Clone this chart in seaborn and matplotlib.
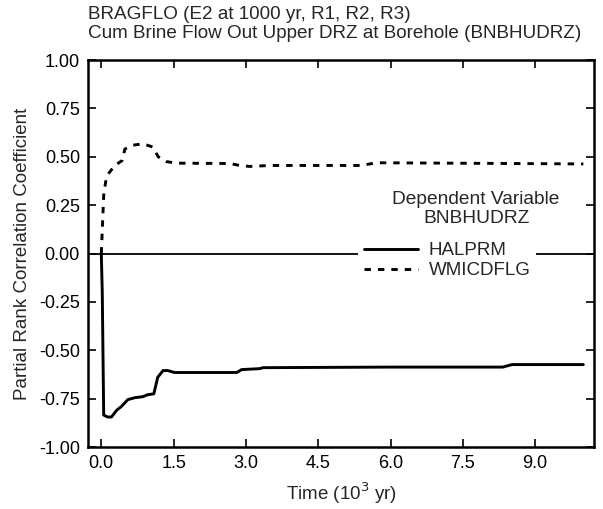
"""
PRCC plot: BRAGFLO cumulative brine flow out of upper DRZ at borehole.
"""
import numpy as np
import pandas as pd
import matplotlib
matplotlib.use("Agg")
import matplotlib.pyplot as plt
from matplotlib.lines import Line2D
import seaborn as sns

# ─────────────────────────────────────────────
# Data
# ─────────────────────────────────────────────
halprm_time = [0.0, 0.02, 0.05, 0.13, 0.21, 0.32, 0.42, 0.55, 0.70, 0.86, 0.96,
               1.09, 1.17, 1.28, 1.38, 1.52, 2.81, 2.91, 3.29, 3.35, 5.98,
               8.33, 8.52, 10.0]
halprm_pcc = [0.0, -0.20, -0.835, -0.845, -0.845, -0.81, -0.79, -0.755, -0.745,
              -0.74, -0.73, -0.725, -0.64, -0.605, -0.605, -0.615, -0.615,
              -0.60, -0.595, -0.59, -0.587, -0.587, -0.574, -0.574]

wmicdflg_time = [0.0, 0.02, 0.05, 0.09, 0.14, 0.28, 0.43, 0.49, 0.66, 0.87,
                 1.07, 1.18, 1.35, 1.56, 2.67, 2.87, 3.08, 3.5, 5.4, 5.7, 10.0]
wmicdflg_pcc = [0.0, 0.12, 0.30, 0.37, 0.41, 0.455, 0.48, 0.54, 0.56, 0.567,
                0.55, 0.50, 0.475, 0.467, 0.465, 0.455, 0.45, 0.455, 0.455,
                0.469, 0.463]

TITLE = "BRAGFLO (E2 at 1000 yr, R1, R2, R3)\nCum Brine Flow Out Upper DRZ at Borehole (BNBHUDRZ)"
X_TICKS = [0.0, 1.5, 3.0, 4.5, 6.0, 7.5, 9.0]
Y_TICKS = [-1.0, -0.75, -0.5, -0.25, 0.0, 0.25, 0.5, 0.75, 1.0]

df = pd.concat([
    pd.DataFrame({"time": halprm_time, "pcc": halprm_pcc, "variable": "HALPRM"}),
    pd.DataFrame({"time": wmicdflg_time, "pcc": wmicdflg_pcc, "variable": "WMICDFLG"}),
], ignore_index=True)

# ─────────────────────────────────────────────
# Style
# ─────────────────────────────────────────────
sns.set_theme(style="ticks")
plt.rcParams["font.family"] = ["Liberation Sans", "DejaVu Sans"]
plt.rcParams["font.size"] = 13.5
plt.rcParams["axes.linewidth"] = 1.8

fig = plt.figure(figsize=(6.03, 5.09), dpi=100)
ax = fig.add_axes([0.1464, 0.1218, 0.8386, 0.7603])

DASHES = {"HALPRM": "", "WMICDFLG": (2.2, 2.4)}
sns.lineplot(data=df, x="time", y="pcc", style="variable", dashes=DASHES,
             color="black", linewidth=2.1, estimator=None, sort=False,
             legend=False, ax=ax, zorder=3)

ax.axhline(0, color="black", linewidth=1.3, zorder=2)

ax.set_xlim(-0.27, 10.22)
ax.set_ylim(-1.0, 1.0)
ax.set_xticks(X_TICKS)
ax.set_xticklabels([f"{t:.1f}" for t in X_TICKS])
ax.set_yticks(Y_TICKS)
ax.set_yticklabels([f"{t:.2f}" for t in Y_TICKS])
ax.tick_params(direction="in", top=True, right=True, length=6, width=1.2,
               labelsize=13, pad=6, colors="black")
for s in ax.spines.values():
    s.set_color("black")

ax.set_xlabel("Time (10$^3$ yr)", fontsize=13.5, labelpad=6)
ax.set_ylabel("Partial Rank Correlation Coefficient", fontsize=13.5, labelpad=6)

fig.text(88 / 603, 1 - 6 / 509, TITLE, ha="left", va="top", fontsize=13.6,
         linespacing=1.12)

# Legend
handles = [Line2D([], [], color="black", lw=2.1),
           Line2D([], [], color="black", lw=2.1, dashes=DASHES["WMICDFLG"])]
leg = ax.legend(handles, ["HALPRM", "WMICDFLG"], loc="center",
                bbox_to_anchor=(0.71, 0.481), frameon=True, fontsize=13.5,
                handlelength=2.9, handletextpad=0.55, labelspacing=0.15,
                borderpad=0.3, borderaxespad=0)
leg.get_frame().set_facecolor("white")
leg.get_frame().set_edgecolor("none")
leg.get_frame().set_alpha(1)
leg.set_zorder(5)

ax.text(0.767, 0.615, "Dependent Variable\nBNBHUDRZ", transform=ax.transAxes,
        ha="center", va="center", fontsize=13.8, linespacing=1.15)

fig.savefig("out.png", dpi=100)
